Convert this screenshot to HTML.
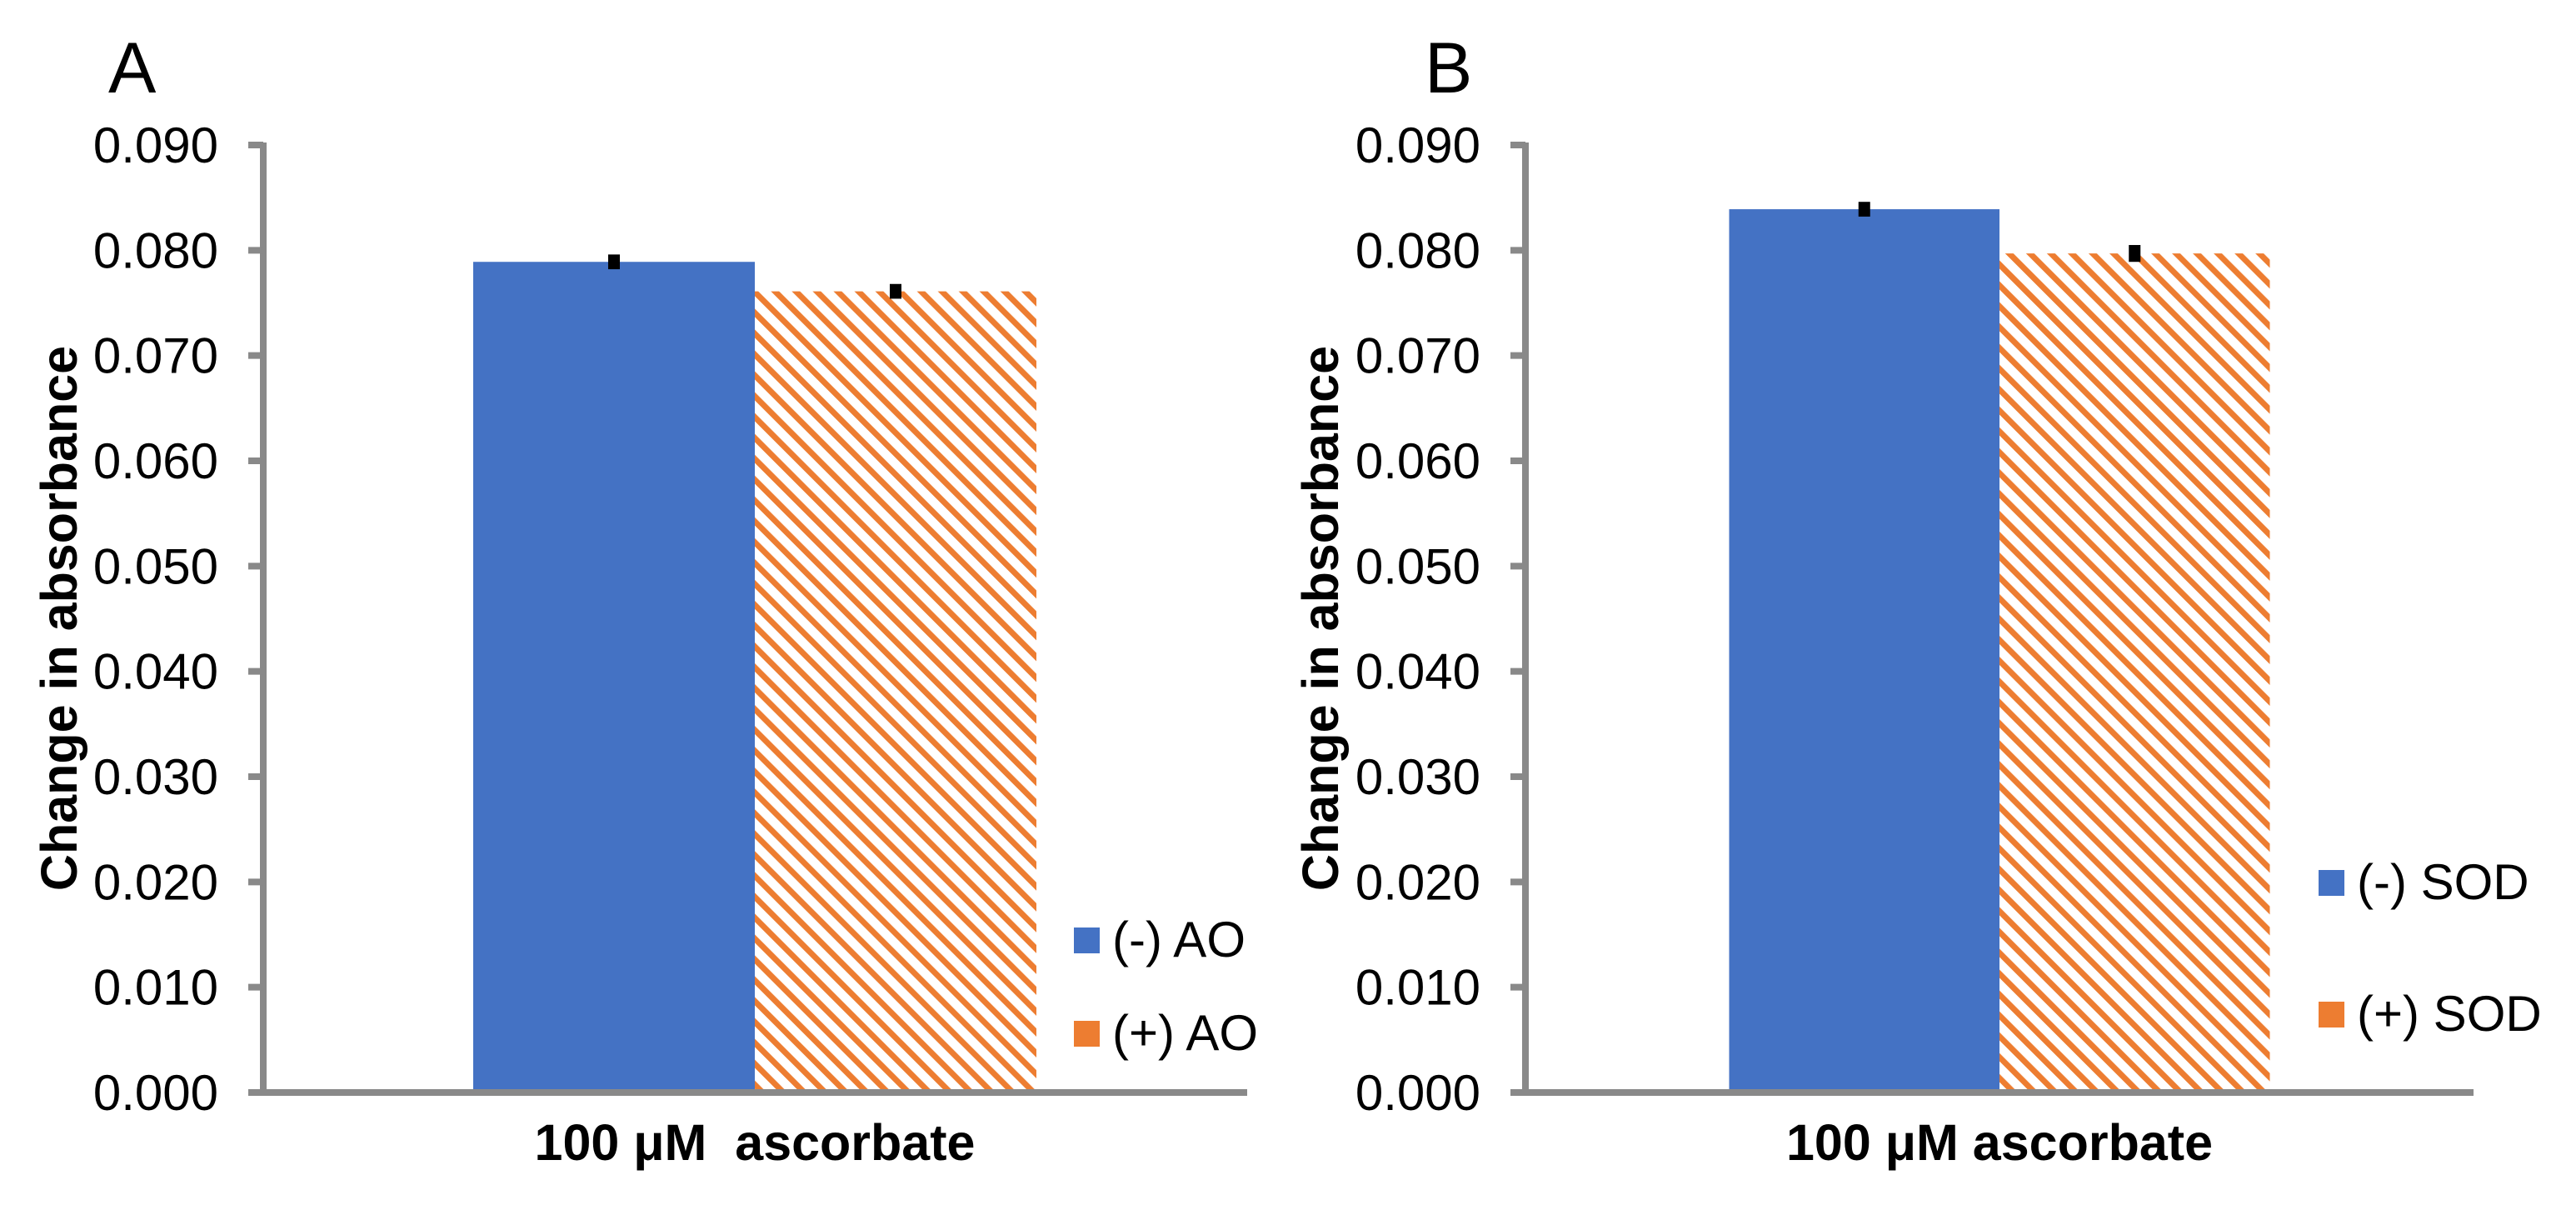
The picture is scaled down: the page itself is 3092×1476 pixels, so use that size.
<!DOCTYPE html>
<html><head><meta charset="utf-8">
<style>
html,body{margin:0;padding:0;background:#fff;}
svg{display:block;}
text{font-family:"Liberation Sans",Arial,sans-serif;}
</style></head>
<body>
<svg id="fig" width="3092" height="1476" viewBox="0 0 3092 1476" xmlns="http://www.w3.org/2000/svg">
<defs>
<pattern id="hatch" patternUnits="userSpaceOnUse" width="17.7" height="17.7" patternTransform="rotate(-45)">
<rect width="17.7" height="17.7" fill="#ffffff"/>
<rect x="0" y="0" width="7" height="17.7" fill="#ED7D31"/>
</pattern>
</defs>
</svg>
<script>
// Panel A data
const categoriesA = ["100 μM  ascorbate"];
const seriesNamesA = ["(-) AO", "(+) AO"];
const valuesA = [0.0789, 0.0761];
const errorsA = [0.0007, 0.0007];
// Panel B data
const categoriesB = ["100 μM ascorbate"];
const seriesNamesB = ["(-) SOD", "(+) SOD"];
const valuesB = [0.0839, 0.0797];
const errorsB = [0.0007, 0.0008];
// Shared axis ticks
const tickValues = [0, 0.01, 0.02, 0.03, 0.04, 0.05, 0.06, 0.07, 0.08, 0.09];
const tickLabels = ["0.000","0.010","0.020","0.030","0.040","0.050","0.060","0.070","0.080","0.090"];

const NS = "http://www.w3.org/2000/svg";
const svg = document.getElementById('fig');
function mk(tag, attrs, parent){
  const e = document.createElementNS(NS, tag);
  for (const k in attrs) e.setAttribute(k, attrs[k]);
  (parent||svg).appendChild(e);
  return e;
}

function panel(cfg){
  const g = mk('g', {});
  
  
  const y0 = 1311, y1 = 174, ymax = 0.09;
  const yScale = v => y0 - (v / ymax) * (y0 - y1);
  const gray = '#898989';

  const nS = cfg.values.length;
  const barW = cfg.groupWidth / nS;
  const fills = ['#4472C4', 'url(#hatch)'];
  cfg.values.forEach((v, i) => {
    const x = cfg.center - cfg.groupWidth / 2 + i * barW;
    const r = mk('rect', {x: x, y: yScale(v), width: barW, height: y0 - yScale(v), fill: fills[i]}, g);
    
    
    const cx = x + barW / 2;
    const e = cfg.errors[i];
    const eb = mk('rect', {x: cx - 7, y: yScale(v + e), width: 14, height: yScale(v - e) - yScale(v + e), fill: '#000'}, g);
    
    
  });

  const ya = mk('line', {x1: cfg.axisX, y1: y1 - 3, x2: cfg.axisX, y2: y0 + 4, stroke: gray, 'stroke-width': 8}, g);
  
  
  const xa = mk('line', {x1: cfg.axisX - 18, y1: y0, x2: cfg.axisEnd, y2: y0, stroke: gray, 'stroke-width': 8}, g);
  
  

  tickValues.forEach((t, i) => {
    const ty = yScale(t);
    const tk = mk('line', {x1: cfg.axisX - 18, y1: ty, x2: cfg.axisX, y2: ty, stroke: gray, 'stroke-width': 8}, g);
    
    
    const tl = mk('text', {x: cfg.labelRight, y: ty + 21, 'font-size': 60, 'text-anchor': 'end', fill: '#000'}, g);
    tl.textContent = tickLabels[i];
    
    
  });

  const yt = mk('text', {x: cfg.titleX, y: 742, 'font-size': 61, 'font-weight': 'bold', 'text-anchor': 'middle', transform: 'rotate(-90 ' + cfg.titleX + ' 742)', 'dominant-baseline': 'central'}, g);
  yt.textContent = 'Change in absorbance';
  
  

  const xl = mk('text', {x: cfg.center, y: 1392, 'font-size': 61, 'font-weight': 'bold', 'text-anchor': 'middle'}, g);
  xl.setAttribute('style', 'white-space:pre');
  xl.textContent = cfg.categories[0];
  
  

  const pl = mk('text', {x: cfg.letterX, y: 111, 'font-size': 86}, g);
  pl.textContent = cfg.letter;
  
  

  const legFills = ['#4472C4', '#ED7D31'];
  cfg.names.forEach((n, i) => {
    const ly = cfg.legendY[i];
    const sq = mk('rect', {x: cfg.legendX, y: ly, width: 31, height: 31, fill: legFills[i]}, g);
    
    
    const lt = mk('text', {x: cfg.legendX + 46, y: ly + 35, 'font-size': 60}, g);
    lt.textContent = n;
    
    
  });
}

panel({id: 'panel-a', letter: 'A', letterX: 130, values: valuesA, errors: errorsA, categories: categoriesA, names: seriesNamesA,
  center: 906, groupWidth: 676, axisX: 316, axisEnd: 1497, labelRight: 262, titleX: 71,
  legendX: 1289, legendY: [1113, 1225]});
panel({id: 'panel-b', letter: 'B', letterX: 1710, values: valuesB, errors: errorsB, categories: categoriesB, names: seriesNamesB,
  center: 2400, groupWidth: 649, axisX: 1831, axisEnd: 2969, labelRight: 1777, titleX: 1585,
  legendX: 2783, legendY: [1044, 1202]});
</script>
</body></html>
